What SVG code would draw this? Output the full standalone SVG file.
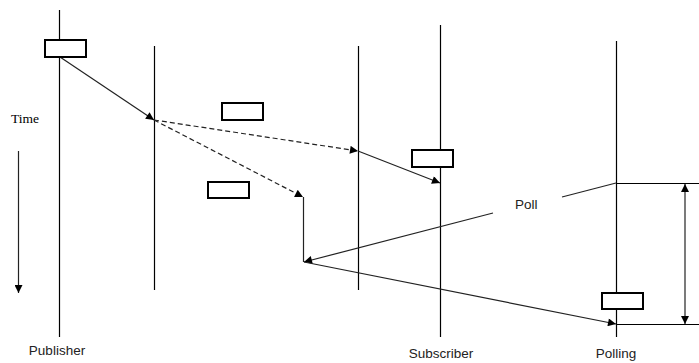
<svg xmlns="http://www.w3.org/2000/svg" width="699" height="363" viewBox="0 0 699 363">
  <defs>
    <marker id="arrow" viewBox="0 0 10 10" refX="10" refY="5" markerWidth="9" markerHeight="8" markerUnits="userSpaceOnUse" orient="auto-start-reverse">
      <path d="M0,0 L10,5 L0,10 Z" fill="#000"/>
    </marker>
    <style>
      .life { stroke: #000; stroke-width: 1.2; fill: none; }
      .msg { stroke: #222; stroke-width: 1.2; fill: none; }
      .dash { stroke-dasharray: 5 3; }
      .box { fill: #fff; stroke: #000; stroke-width: 2; }
      .label { font-family: "Liberation Sans", Arial, sans-serif; font-size: 13.5px; fill: #222; }
      .time { font-family: "Liberation Serif", "Times New Roman", serif; font-size: 13.5px; fill: #000; }
    </style>
  </defs>

  <rect width="699" height="363" fill="#fff"/>

  <!-- lifelines -->
  <g id="publisher">
    <line class="life" x1="59.5" y1="10" x2="59.5" y2="337"/>
    <text class="label" x="57" y="355" text-anchor="middle">Publisher</text>
  </g>
  <g id="relay-a">
    <line class="life" x1="154.5" y1="46" x2="154.5" y2="290"/>
  </g>
  <g id="relay-b">
    <line class="life" x1="358.5" y1="46" x2="358.5" y2="290"/>
  </g>
  <g id="subscriber">
    <line class="life" x1="440.5" y1="25" x2="440.5" y2="337"/>
    <text class="label" x="441" y="358" text-anchor="middle">Subscriber</text>
  </g>
  <g id="polling">
    <line class="life" x1="616.5" y1="41" x2="616.5" y2="337"/>
    <text class="label" x="616" y="358" text-anchor="middle">Polling</text>
  </g>

  <!-- time axis -->
  <g id="time-axis">
    <text class="time" x="11" y="123">Time</text>
    <line class="msg" x1="18.5" y1="151" x2="18.5" y2="293" marker-end="url(#arrow)"/>
  </g>

  <!-- message connectors -->
  <g id="connectors">
    <line class="msg" x1="60" y1="57" x2="154" y2="120" marker-end="url(#arrow)"/>
    <line class="msg dash" x1="154" y1="120" x2="358" y2="151" marker-end="url(#arrow)"/>
    <line class="msg" x1="358" y1="151" x2="440" y2="183" marker-end="url(#arrow)"/>
    <line class="msg dash" x1="154" y1="120" x2="303" y2="197" marker-end="url(#arrow)"/>
    <line class="msg" x1="303.5" y1="197" x2="303.5" y2="262"/>
    <line class="msg" x1="493" y1="213" x2="304" y2="262" marker-end="url(#arrow)"/>
    <line class="msg" x1="304" y1="262" x2="616" y2="324" marker-end="url(#arrow)"/>
    <line class="msg" x1="562" y1="197" x2="616" y2="183"/>
    <line class="life" x1="616" y1="183.5" x2="699" y2="183.5"/>
    <line class="life" x1="616" y1="324.5" x2="699" y2="324.5"/>
    <line class="msg" x1="685" y1="184" x2="685" y2="324" marker-start="url(#arrow)" marker-end="url(#arrow)"/>
  </g>

  <text id="poll-label" class="label" x="515" y="209">Poll</text>

  <!-- message boxes -->
  <g id="box-publish"><rect class="box" x="45" y="40" width="41" height="17"/></g>
  <g id="box-relay-top"><rect class="box" x="222" y="103" width="41" height="17"/></g>
  <g id="box-subscriber"><rect class="box" x="412" y="150" width="41" height="17"/></g>
  <g id="box-relay-low"><rect class="box" x="208" y="182" width="41" height="16"/></g>
  <g id="box-polling"><rect class="box" x="602" y="293" width="41" height="16"/></g>
</svg>
